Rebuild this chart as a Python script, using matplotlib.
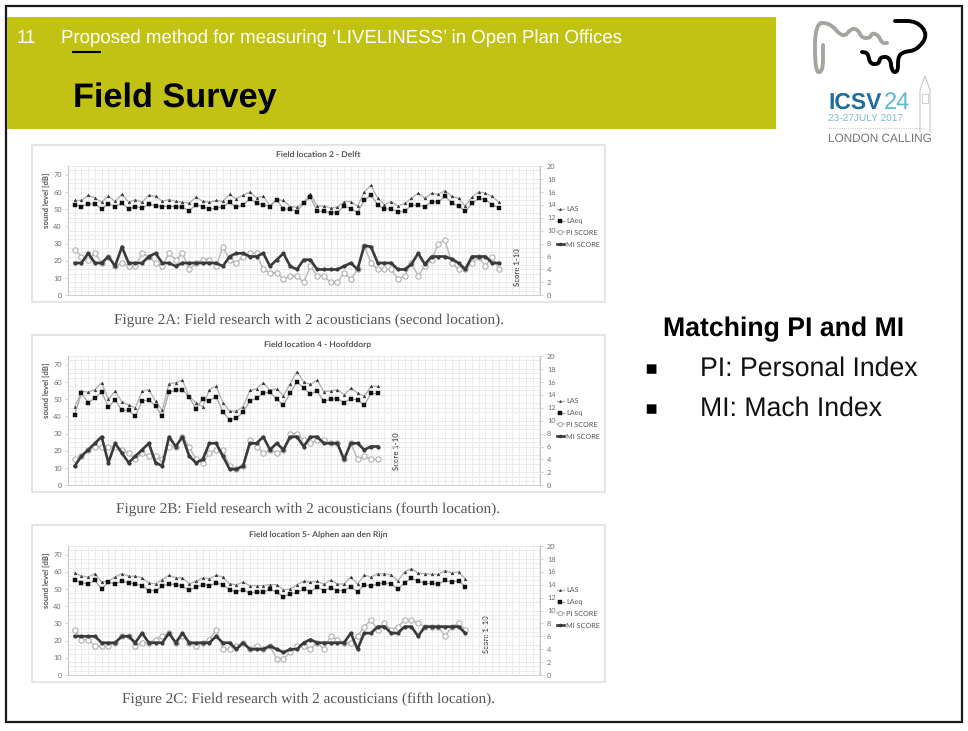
import numpy as np
import matplotlib
matplotlib.use("Agg")
import matplotlib.pyplot as plt
from matplotlib.patches import Rectangle

plt.rcParams["text.hinting"] = "no_hinting"

W, H = 968, 731

# ------------------------------------------------------------
# values (LAS, LAeq in dB, scores 1-10)
# ------------------------------------------------------------
las_delft = [55, 55, 58, 56.5, 54, 57.5, 54.5, 58.5, 54, 55.5, 54, 58, 57.5, 54.5, 55.5, 54.5,
             54, 53.5, 57, 54.5, 54, 55, 54.5, 58.5, 56, 58, 60, 56.5, 57.5, 52, 55.5, 55,
             51.5, 51, 54, 59, 51.75, 51.75, 50.6, 51, 54.4, 54.4, 51.75, 60, 63.75, 56.25,
             52.5, 54.4, 51.75, 53.25, 56.25, 59.25, 56.25, 59.25, 58.5, 60.75, 57.4, 56.25,
             51.75, 57, 60, 59.25, 57.4, 54]
laeq_delft = [52.5, 51.5, 53, 53, 50, 53, 51.5, 53.5, 50, 51.5, 50.5, 53, 52, 51.5, 51.5, 51.5,
              51, 49, 52.5, 51.5, 50, 50.5, 51.5, 54, 51, 52.5, 56, 53.5, 52.5, 51.5, 55.5, 50,
              50, 48.5, 53.5, 57, 48.75, 48.75, 48, 48, 51.75, 50.25, 48, 55.1, 58.1, 52.5,
              49.9, 50.25, 48.4, 48.75, 52.1, 52.5, 51.4, 54.4, 54, 57.4, 53.6, 51.75, 48.75,
              53.25, 56.25, 55.5, 52.5, 50.6]
pi_delft = [7, 6, 5.5, 6.5, 5, 6, 4.5, 5, 4.5, 4.5, 6.5, 6, 5, 4.5, 6.5, 5.5, 6.5, 4, 5, 5.5,
            5.5, 4.5, 7.5, 5.5, 5, 6, 6.5, 6.5, 4, 3.5, 3.5, 2.5, 3, 3, 2, 4.5, 3, 3, 2, 2,
            3.5, 2.5, 4, 7.7, 5, 4, 4, 4, 2.5, 3, 5, 3, 4.5, 5.5, 8, 8.5, 5, 4, 4, 5, 6, 4.5,
            6, 4]
mi_delft = [5, 5, 6.5, 5, 5, 6, 4.5, 7.5, 5, 5, 5, 6, 6.5, 5, 5, 4.5, 5, 5, 5, 5, 5, 5, 4.5,
            6, 6.5, 6.5, 6, 6, 6.5, 4.5, 5.5, 6.5, 4.5, 4, 5.5, 5.5, 4, 4, 4, 4, 4.5, 5, 4,
            7.7, 7.5, 5, 5, 5, 4, 4, 4.8, 6.5, 4.8, 6, 6, 6, 5.6, 5, 4, 6, 6, 6, 5, 5]

las_hoofddorp = [45.5, 54.5, 54, 55.5, 59.5, 50, 54.5, 48.5, 46.5, 45, 54.5, 55.5, 49, 43.5, 59,
                 59.5, 61, 51.5, 48, 45.5, 55.5, 57.5, 48, 43, 43, 45.5, 55, 56, 59.5, 55, 56,
                 52, 59, 66, 60, 58.5, 61, 54.4, 54.75, 55.5, 52.5, 56.25, 53.6, 51.75, 57.4,
                 57.4]
laeq_hoofddorp = [41, 53.5, 48, 50.5, 54, 45.5, 49.5, 43.5, 43.5, 40, 49, 49.5, 46, 40, 54, 55,
                  55.5, 51, 44.5, 50, 49, 51.5, 42.5, 38, 39, 42.5, 49, 50.5, 53.5, 54, 50, 46.5,
                  53.5, 60, 56.5, 53, 54.5, 48.75, 49.9, 50.25, 48, 50.25, 49.5, 46.5, 53.25,
                  53.25]
pi_hoofddorp = [4, 4.5, 5.5, 6, 6, 6, 6, 5.5, 5, 4, 5, 4.5, 4.5, 4, 6, 6, 7.5, 6, 4, 3.5, 5,
                5.5, 5.5, 3, 2.5, 3, 7, 6, 5, 5.5, 5, 5.5, 8, 8, 7, 6.5, 7, 7, 6.5, 6.5, 4, 6.5,
                4, 4.5, 4, 4]
mi_hoofddorp = [3, 4.5, 5.5, 6.5, 7.5, 3.5, 6.5, 5, 3.5, 4.5, 5.5, 6.5, 3.5, 3, 7.5, 6, 7.5,
                4.5, 3.5, 4, 6.5, 6.5, 4.5, 2.5, 2.5, 3, 6.5, 6.5, 7.5, 5.5, 6.5, 5.5, 7.5, 7.5,
                6, 7.5, 7.5, 6.5, 6.5, 6.5, 4, 6.5, 6.5, 5.5, 6, 6]

las_alphen = [59.5, 57.5, 57, 59, 54, 54.5, 57, 59, 57.5, 57.5, 56.5, 53.5, 53, 55.5, 58, 56.5,
              56.5, 53, 54.5, 56.5, 56, 58, 57, 53, 52.5, 54, 52, 52, 52, 52.5, 52.5, 49.5, 50,
              52.5, 54.5, 54, 54.5, 52.9, 55.1, 52.9, 52.9, 57, 52.9, 58.1, 57, 58.9, 58.9,
              58.1, 54.75, 60, 61.9, 59.25, 58.9, 58.5, 58.5, 60.75, 59.25, 60, 55.9]
laeq_alphen = [55, 53.5, 53, 55, 50, 54, 53, 54.5, 53.5, 53, 52, 49, 49, 51.5, 53, 52.5, 51.5,
               49.5, 51, 52.5, 52, 53.5, 52.5, 49.5, 48.5, 49.5, 47.5, 48.5, 48, 50, 48, 45.5,
               47, 48, 50, 48.5, 51, 49.1, 50.6, 49.1, 49.1, 51.4, 48.4, 52.5, 51.75, 52.9,
               53.6, 52.9, 49.9, 53.6, 56.25, 54.75, 53.25, 53.25, 52.9, 55.1, 54, 54.75, 51.4]
pi_alphen = [7, 5.5, 5.5, 4.5, 4.5, 4.5, 5, 6, 6, 4.5, 5, 5, 5.5, 6, 6.5, 5, 6, 5, 4.5, 5, 5.5,
             7, 4, 4, 4.5, 5, 4, 4.5, 4, 4.5, 2.5, 2.5, 3.5, 4.5, 4.5, 4, 5, 4, 6, 5.5, 5, 5,
             6, 7.5, 8.5, 7, 8, 7, 7.5, 8.5, 8.5, 8, 7.5, 7.5, 7.5, 6, 7.5, 8, 7]
mi_alphen = [6, 6, 6, 6, 5, 5, 5, 6, 6, 5, 6.5, 5, 5, 5, 6.5, 5, 6.5, 5, 5, 5, 5, 6, 5, 5, 4, 5,
             4, 4, 4, 4.5, 4, 3.5, 4, 4, 5, 5.5, 5, 5, 5, 5, 5, 6.5, 4, 6.5, 6.5, 7.5, 7.5,
             6.5, 6.5, 7.5, 7.5, 6, 7.5, 7.5, 7.5, 7.5, 7.5, 7.5, 6.5]

series_names = ["LAS", "LAeq", "PI SCORE", "MI SCORE"]
left_ticks = [0, 10, 20, 30, 40, 50, 60, 70]
right_ticks = [0, 2, 4, 6, 8, 10, 12, 14, 16, 18, 20]

FONT = "Liberation Sans"
CHART_FONT = "Lato"
GREY = "#707070"

fig = plt.figure(figsize=(W / 100, H / 100), dpi=100, facecolor="white")
bg = fig.add_axes([0, 0, 1, 1])
bg.set_xlim(0, W)
bg.set_ylim(H, 0)
bg.axis("off")


def rounded(xs, ys, n=3):
    # corner cutting, the logo is a tube with soft bends
    pts = np.column_stack([xs, ys]).astype(float)
    for _ in range(n):
        q = 0.75 * pts[:-1] + 0.25 * pts[1:]
        r = 0.25 * pts[:-1] + 0.75 * pts[1:]
        mid = np.empty((2 * len(q), 2))
        mid[0::2] = q
        mid[1::2] = r
        pts = np.vstack([pts[0], mid, pts[-1]])
    return pts[:, 0], pts[:, 1]


def draw_chart(top, y0, y20, title, score_x, score_y, legend_y, caption, caption_y,
               las, laeq, pi, mi):
    # frame of the pasted excel chart
    bg.add_patch(Rectangle((32, top), 573, 157, fc="white", ec="#e0e0e0", lw=1.2))
    bg.text(318, top + 10.5, title, fontsize=6.1, fontweight="bold", color="#555555",
            family=CHART_FONT, ha="center", va="center")
    bg.text(46, top + 55, "sound level [dB]", fontsize=5.6, fontweight="bold", color="#555555",
            family=CHART_FONT, rotation=90, ha="center", va="center")
    bg.text(score_x, score_y, "Score 1-10", fontsize=5.6, fontweight="bold", color="#555555",
            family=CHART_FONT, rotation=90, ha="center", va="center")
    bg.text(308.5, caption_y, caption, fontsize=11, color="#555555", family="Liberation Serif",
            ha="center", va="center")

    ax = fig.add_axes([68 / W, 1 - y0 / H, (540 - 68) / W, (y0 - y20) / H])
    ax.patch.set_alpha(0)
    ax.set_xlim(-1, 69.1)
    ax.set_ylim(0, 75)
    ax.set_xticks(np.arange(-1, 70), minor=True)
    ax.set_yticks(np.arange(0, 76, 2.5), minor=True)
    ax.set_xticks([])
    ax.set_yticks(left_ticks)
    ax.grid(True, which="minor", color="#e5e5e5", lw=0.5)
    ax.tick_params(which="minor", length=0)
    ax.tick_params(axis="y", labelsize=5.3, labelcolor=GREY, color="#c4c4c4", length=2, width=0.5, pad=2.5)
    for s in ax.spines.values():
        s.set_visible(False)
    ax.spines["left"].set_visible(True)
    ax.spines["left"].set_color("#c8c8c8")
    ax.spines["bottom"].set_visible(True)
    ax.spines["bottom"].set_color("#d0d0d0")
    for lab in ax.get_yticklabels():
        lab.set_family(CHART_FONT)

    ax2 = ax.twinx()
    ax2.patch.set_alpha(0)
    ax2.set_ylim(0, 20)
    ax2.set_yticks(right_ticks)
    ax2.tick_params(axis="y", labelsize=5.3, labelcolor=GREY, color="#c4c4c4", length=2, width=0.5, pad=3)
    for s in ax2.spines.values():
        s.set_visible(False)
    ax2.spines["right"].set_visible(True)
    ax2.spines["right"].set_color("#c8c8c8")
    for lab in ax2.get_yticklabels():
        lab.set_family(CHART_FONT)

    h1, = ax.plot(np.arange(len(las)), las, color="#b4b4b4", lw=1, marker="^", ms=2,
                  mfc="#333333", mec="#333333", mew=0.3)
    h2, = ax.plot(np.arange(len(laeq)), laeq, color="#a4a4a4", lw=0.9, marker="s", ms=3,
                  mfc="#111111", mec="#111111", mew=0.3)
    h3, = ax2.plot(np.arange(len(pi)), pi, color="#bbbbbb", lw=1.1, marker="o", ms=3.8,
                   mfc="white", mec="#b0b0b0", mew=0.8)
    h4, = ax2.plot(np.arange(len(mi)), mi, color="#3a3a3a", lw=1.9, marker="o", ms=2,
                   mfc="#3a3a3a", mec="#3a3a3a")

    fig.legend([h1, h2, h3, h4], series_names, loc="center left",
               bbox_to_anchor=(553 / W, 1 - legend_y / H), frameon=False, borderpad=0,
               labelspacing=0.75, handlelength=1.0, handletextpad=0.3,
               prop={"family": CHART_FONT, "size": 5.2}, labelcolor="#555555",
               markerscale=0.8)


draw_chart(145, 295.3, 166, "Field location 2 - Delft", 518, 267, 227,
           "Figure 2A: Field research with 2 acousticians (second location).", 320,
           las_delft, laeq_delft, pi_delft, mi_delft)
draw_chart(335, 485.3, 356, "Field location 4 - Hoofddorp", 397, 451, 419,
           "Figure 2B: Field research with 2 acousticians (fourth location).", 509,
           las_hoofddorp, laeq_hoofddorp, pi_hoofddorp, mi_hoofddorp)
draw_chart(525, 675, 546, "Field location 5- Alphen aan den Rijn", 487, 634, 608,
           "Figure 2C: Field research with 2 acousticians (fifth location).", 699,
           las_alphen, laeq_alphen, pi_alphen, mi_alphen)

# slide frame and header band
bg.add_patch(Rectangle((5.5, 5.5), 956.5, 716.5, fc="none", ec="#1a1a1a", lw=1.6))
bg.add_patch(Rectangle((6.5, 17), 769.5, 111.5, fc="#c2c214", ec="none"))
bg.plot([72, 101], [51.8, 51.8], color="black", lw=1.5, solid_capstyle="butt")
bg.text(17, 38, "11", fontsize=13.4, color="white", family=FONT, va="center")
bg.text(61, 38, "Proposed method for measuring \u2018LIVELINESS\u2019 in Open Plan Offices", fontsize=13.4,
        color="white", family=FONT, va="center")
bg.text(73, 98, "Field Survey", fontsize=24.7, fontweight="bold", color="black", family=FONT, va="center")

# right hand text
bg.text(663, 329, "Matching PI and MI", fontsize=19.2, fontweight="bold", color="black", family=FONT, va="center")
for y, txt in [(367, "PI: Personal Index"), (407, "MI: Mach Index")]:
    bg.text(644, y + 2, "\u25aa", fontsize=14, color="black", family="DejaVu Sans", va="center")
    bg.text(700, y + 2, txt, fontsize=19.15, color="#111111", family=FONT, va="center")

# logos
gx, gy = rounded([823, 823, 815, 815, 830, 843, 852, 858, 862, 870, 872, 878, 882, 887],
                 [45, 72, 72, 23, 23, 38, 28, 30, 38, 38, 33, 35, 43, 43], n=2)
bg.plot(gx, gy, color="#a5a5a0", lw=2.8, solid_capstyle="round")
kx, ky = rounded([895, 917, 928, 917, 903, 898, 898, 892, 890, 880, 879, 870, 868, 862],
                 [21, 21, 35, 50, 52, 57, 72, 72, 57, 57, 64, 64, 53, 52], n=2)
bg.plot(kx, ky, color="black", lw=2.8, solid_capstyle="round")
bg.text(828, 103, "ICSV", fontsize=16.5, fontweight="bold", color="#1f6f9e", family=FONT, va="center")
bg.text(884, 103, "24", fontsize=17, color="#5cb7d6", family=FONT, va="center")
bg.text(828, 119.5, "23-27JULY 2017", fontsize=7.3, color="#7fb8d0", family=FONT, va="center")
bg.plot([828, 925], [128, 128], color="#b0b0b0", lw=0.6, ls=":")
bg.text(828, 138.5, "LONDON CALLING", fontsize=8.5, color="#777777", family=FONT, va="center")
bg.plot([920, 920, 925, 930, 930], [132, 90, 76, 90, 132], color="#c6c6d0", lw=0.8)
bg.add_patch(Rectangle((922, 94), 6, 9, fc="none", ec="#c6c6d0", lw=0.6))

fig.savefig("out.png", dpi=100)
